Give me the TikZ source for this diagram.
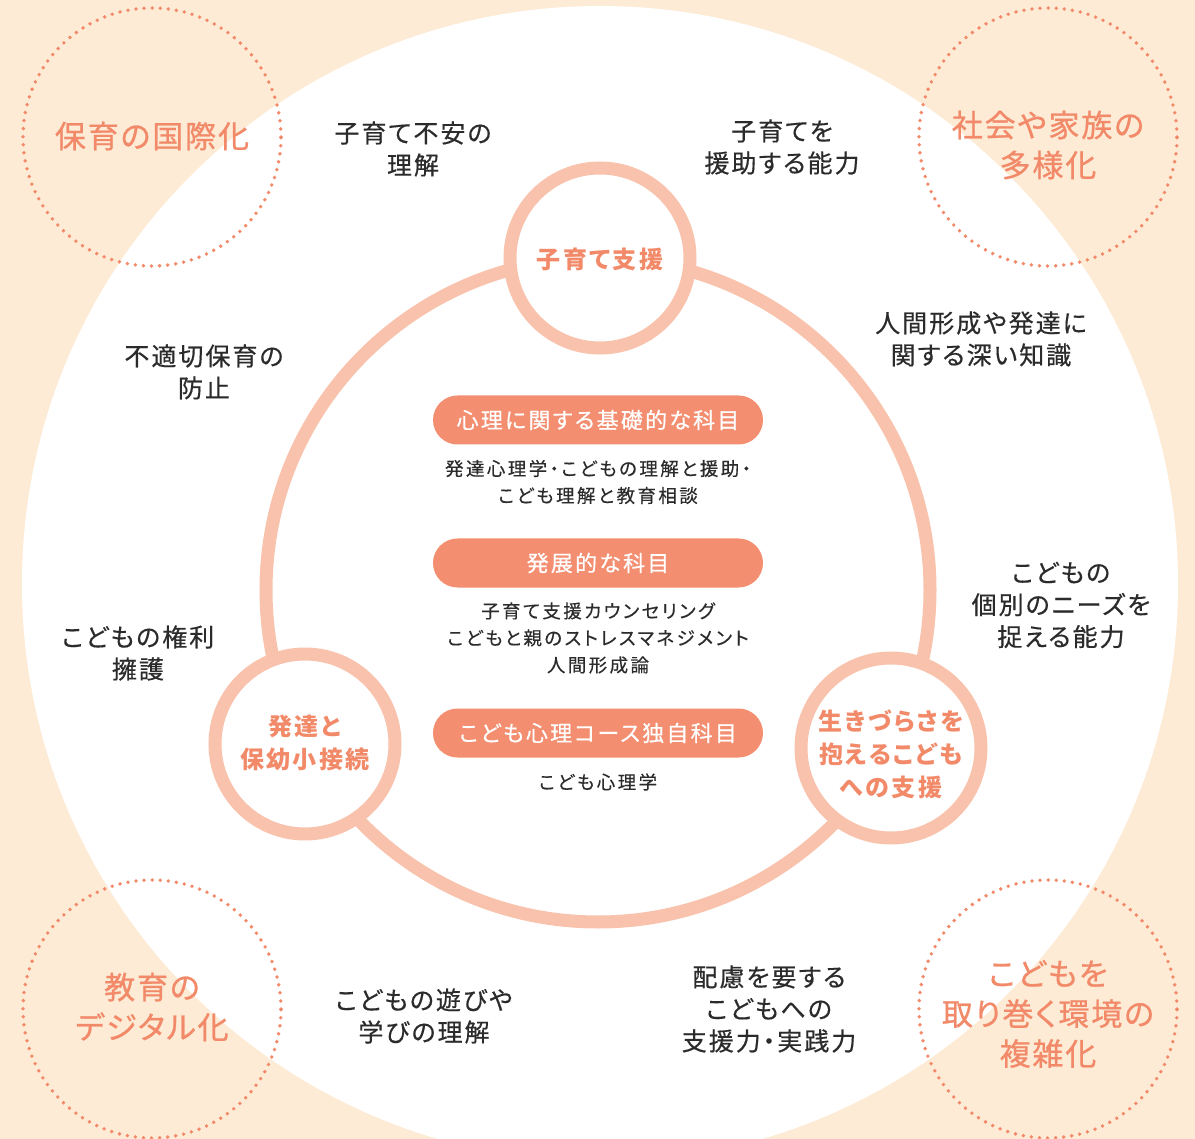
\documentclass[tikz,border=0pt]{standalone}
\usepackage{fontspec}
\newfontfamily\jpLabel[LetterSpace=8,RawFeature=+palt,FakeBold=0.4]{Noto Sans CJK JP}
\newfontfamily\jpPill[LetterSpace=10,RawFeature=+palt,FakeBold=0.6]{Noto Sans CJK JP}
\newfontfamily\jpSub[LetterSpace=13,RawFeature=+palt,FakeBold=0.3]{Noto Sans CJK JP}
\newfontfamily\jpHub[LetterSpace=10,RawFeature=+palt]{Noto Sans CJK JP}
\newfontfamily\jpBig[LetterSpace=6,RawFeature=+palt,FakeBold=0.8]{Noto Sans CJK JP}
\definecolor{bgpeach}{HTML}{FDEBD6}
\definecolor{ringc}{HTML}{F9C2AC}
\definecolor{pillc}{HTML}{F48E70}
\definecolor{salmon}{HTML}{F28A69}
\definecolor{txt}{HTML}{2B2B2B}
\begin{document}
\begin{tikzpicture}[x=1pt,y=-1pt,
  ringline/.style={draw=ringc,line width=13pt},
  hub/.style={circle,draw=ringc,line width=13pt,fill=white,minimum size=180pt,inner sep=0pt},
  hubtext/.style={text=salmon,align=center,inner sep=0pt,font=\jpHub\bfseries\fontsize{24}{33}\selectfont},
  dotcirc/.style={circle,draw=salmon,line width=3.8pt,dash pattern=on 0pt off 8.1pt,line cap=round,
    minimum size=258pt,inner sep=0pt},
  bigtext/.style={text=salmon,align=center,inner sep=0pt,font=\jpBig\fontsize{31}{40}\selectfont},
  pill/.style={rectangle,rounded corners=24.5pt,fill=pillc,minimum width=330pt,minimum height=49pt,
    inner sep=0pt,text=white,font=\jpPill\fontsize{22}{26}\selectfont},
  subtext/.style={text=txt,align=center,inner sep=0pt,font=\jpSub\fontsize{18.5}{27}\selectfont},
  outer/.style={text=txt,align=center,inner sep=0pt,font=\jpLabel\fontsize{25}{32}\selectfont}
]
\useasboundingbox (0,0) rectangle (1195,1139);
\begin{scope}
\clip (0,0) rectangle (1195,1139);
\fill[bgpeach] (0,0) rectangle (1195,1139);
\fill[white] (600,584) circle[radius=578pt];
\end{scope}
% dotted trend circles
\node[dotcirc] (intl) at (152,137) {};
\node[dotcirc] (divers) at (1048,137) {};
\node[dotcirc] (digital) at (152,1009) {};
\node[dotcirc] (complex) at (1048,1009) {};
\node[bigtext] (intltext) at (152,136) {保育の国際化};
\node[bigtext] (diverstext) at (1048,145) {社会や家族の\\多様化};
\node[bigtext] (digitaltext) at (152,1007) {教育の\\デジタル化};
\node[bigtext] (complextext) at (1048,1014) {こどもを\\取り巻く環境の\\複雑化};
% ring
\coordinate (ringcenter) at (598,590);
\draw[ringline] (ringcenter) circle[radius=332pt];
% hubs
\node[hub] (kosodate) at (600,258) {};
\node[hub] (hattatsu) at (305,744) {};
\node[hub] (ikizurasa) at (891,748) {};
\node[hubtext] (kosodatetext) at (600,259) {子育て支援};
\node[hubtext] (hattatsutext) at (305,743) {発達と\\保幼小接続};
\node[hubtext] (ikizurasatext) at (891,754) {生きづらさを\\抱えるこども\\への支援};
% pills
\node[pill] (p1) at (598,420) {心理に関する基礎的な科目};
\node[subtext] (s1) at (598,482) {発達心理学・こどもの理解と援助・\\こども理解と教育相談};
\node[pill] (p2) at (598,563) {発展的な科目};
\node[subtext] (s2) at (598,638) {子育て支援カウンセリング\\こどもと親のストレスマネジメント\\人間形成論};
\node[pill] (p3) at (598,733) {こども心理コース独自科目};
\node[subtext] (s3) at (598,782) {こども心理学};
% outer labels
\node[outer] (o1) at (413,149) {子育て不安の\\理解};
\node[outer] (o2) at (782,147) {子育てを\\援助する能力};
\node[outer] (o3) at (981,339) {人間形成や発達に\\関する深い知識};
\node[outer] (o4) at (204,372) {不適切保育の\\防止};
\node[outer] (o5) at (1061,605) {こどもの\\個別のニーズを\\捉える能力};
\node[outer] (o6) at (138,653) {こどもの権利\\擁護};
\node[outer] (o7) at (424,1016) {こどもの遊びや\\学びの理解};
\node[outer] (o8) at (769,1009) {配慮を要する\\こどもへの\\支援力・実践力};
\end{tikzpicture}
\end{document}
